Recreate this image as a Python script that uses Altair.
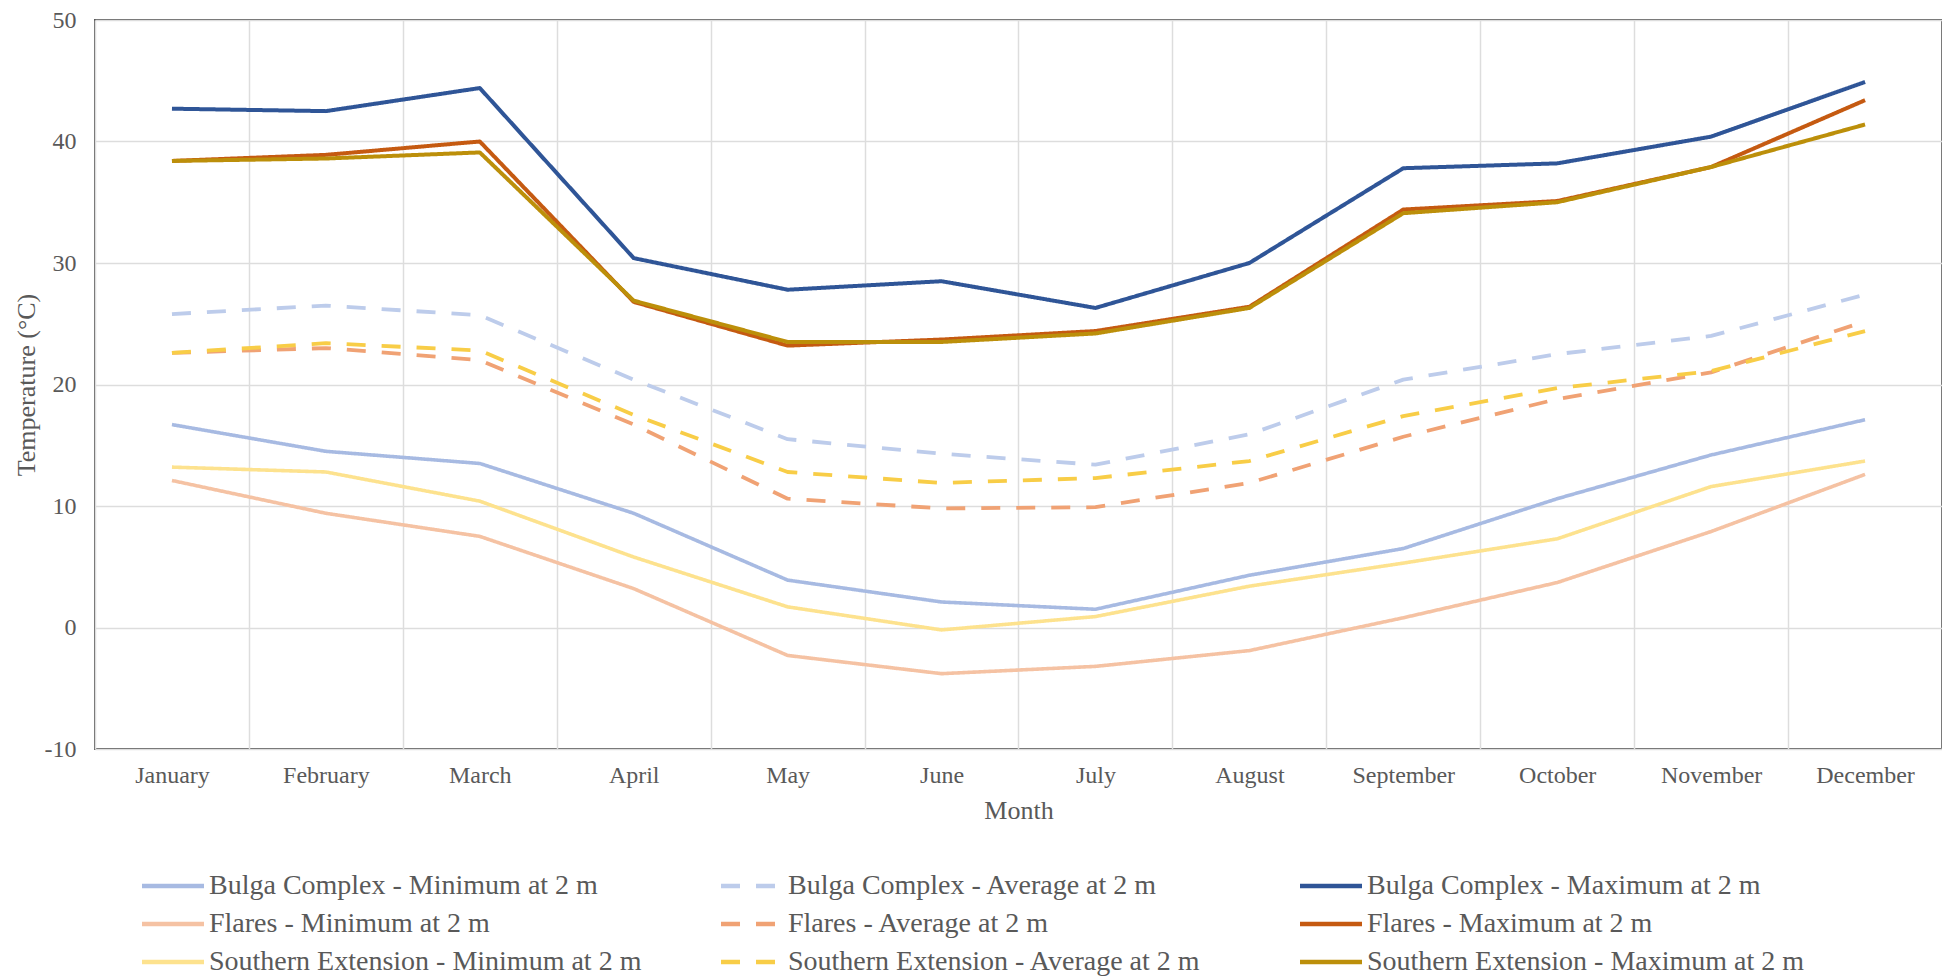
import altair as alt
import pandas as pd

# Monthly 2 m air temperature (°C) for three zones
months = ["January", "February", "March", "April", "May", "June",
          "July", "August", "September", "October", "November", "December"]

bulga_min = [16.7, 14.5, 13.5, 9.4, 3.9, 2.1, 1.5, 4.3, 6.5, 10.6, 14.2, 17.1]
bulga_avg = [25.8, 26.5, 25.7, 20.4, 15.5, 14.3, 13.4, 15.9, 20.4, 22.5, 24.0, 27.4]
bulga_max = [42.7, 42.5, 44.4, 30.4, 27.8, 28.5, 26.3, 30.0, 37.8, 38.2, 40.4, 44.9]

flares_min = [12.1, 9.4, 7.5, 3.2, -2.3, -3.8, -3.2, -1.9, 0.8, 3.7, 7.9, 12.6]
flares_avg = [22.6, 23.0, 22.0, 16.7, 10.6, 9.8, 9.9, 11.9, 15.7, 18.8, 21.0, 25.2]
flares_max = [38.4, 38.9, 40.0, 26.8, 23.2, 23.7, 24.4, 26.4, 34.4, 35.1, 37.9, 43.4]

south_min = [13.2, 12.8, 10.4, 5.8, 1.7, -0.2, 0.9, 3.4, 5.3, 7.3, 11.6, 13.7]
south_avg = [22.6, 23.4, 22.8, 17.5, 12.8, 11.9, 12.3, 13.7, 17.4, 19.7, 21.1, 24.4]
south_max = [38.4, 38.6, 39.1, 26.9, 23.5, 23.5, 24.2, 26.3, 34.1, 35.0, 37.9, 41.4]

series_names = [
    "Bulga Complex - Minimum at 2 m", "Bulga Complex - Average at 2 m", "Bulga Complex - Maximum at 2 m",
    "Flares - Minimum at 2 m", "Flares - Average at 2 m", "Flares - Maximum at 2 m",
    "Southern Extension - Minimum at 2 m", "Southern Extension - Average at 2 m",
    "Southern Extension - Maximum at 2 m",
]
series_values = [bulga_min, bulga_avg, bulga_max,
                 flares_min, flares_avg, flares_max,
                 south_min, south_avg, south_max]
series_stats = ["min", "avg", "max"] * 3

series_colors = ["#A7BAE2", "#BDCCEB", "#2F5597",
                 "#F5C2A3", "#F0A274", "#C55A11",
                 "#FDE28E", "#F8CD47", "#BC8F0A"]
solid = [1, 0]
dashed = [19, 16]
series_dashes = [solid, dashed, solid] * 3

rows = []
for name, stat, vals in zip(series_names, series_stats, series_values):
    for m, v in zip(months, vals):
        rows.append({"Month": m, "Series": name, "Stat": stat, "Temp": v})
df = pd.DataFrame(rows)

FONT = "Liberation Serif"
TEXT = "#595959"

# wide, flat legend swatch: a horizontal segment three times the symbol's nominal size
SWATCH = "M-3,0H3"

chart = alt.Chart(df).mark_line(strokeJoin="round", strokeCap="butt").encode(
    x=alt.X(
        "Month:N", sort=months, bandPosition=0.5, title="Month",
        scale=alt.Scale(type="band", paddingInner=0, paddingOuter=0),
        axis=alt.Axis(tickBand="extent", ticks=False, domain=False, labelAngle=0,
                      labelPadding=14, titlePadding=10, grid=True),
    ),
    y=alt.Y(
        "Temp:Q", title="Temperature (°C)",
        scale=alt.Scale(domain=[-10, 50], nice=False, zero=False),
        axis=alt.Axis(values=[-10, 0, 10, 20, 30, 40, 50], ticks=False, domain=False,
                      labelExpr="datum.value + ''",
                      labelPadding=19, titlePadding=5),
    ),
    color=alt.Color(
        "Series:N", title=None,
        scale=alt.Scale(domain=series_names, range=series_colors),
        legend=alt.Legend(orient="none", legendX=43, legendY=852, columns=3,
                          direction="horizontal",
                          gridAlign="all", columnPadding=65, rowPadding=10,
                          symbolType=SWATCH, symbolSize=427, symbolStrokeWidth=4.5,
                          symbolOffset=21,
                          labelFontSize=28, labelFont=FONT, labelColor=TEXT,
                          labelOffset=22, labelLimit=700, padding=0),
    ),
    strokeDash=alt.StrokeDash(
        "Series:N", title=None,
        scale=alt.Scale(domain=series_names, range=series_dashes),
    ),
    strokeWidth=alt.StrokeWidth(
        "Stat:N", legend=None,
        scale=alt.Scale(domain=["min", "avg", "max"], range=[3.6, 4.0, 4.5]),
    ),
    detail="Series:N",
).properties(
    width=1847,
    height=729,
    background="white",
    autosize=alt.AutoSizeParams(type="none"),
    padding={"left": 95, "top": 20, "right": 0, "bottom": 228},
).configure_view(
    stroke="#595959", strokeWidth=2,
).configure_axis(
    gridColor="#DDDDDD", gridWidth=1.5,
    labelFont=FONT, labelFontSize=24, labelColor=TEXT,
    titleFont=FONT, titleFontSize=26, titleColor=TEXT, titleFontWeight="normal",
)

chart.save("out.html", embed_options={"renderer": "svg", "actions": False})
